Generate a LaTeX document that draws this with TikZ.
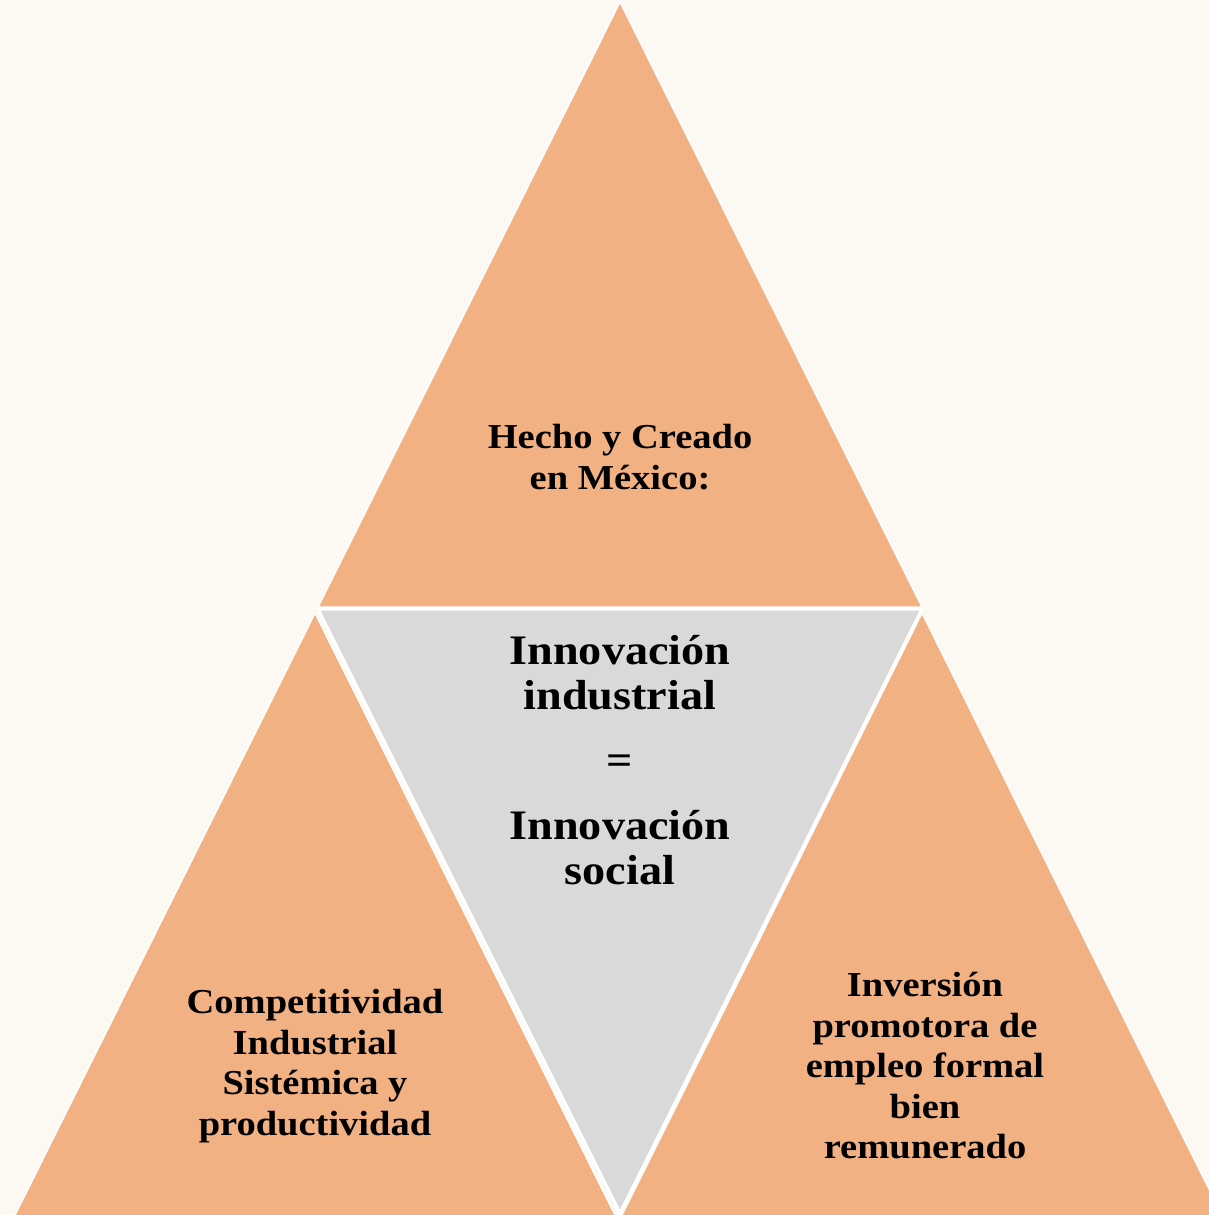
\documentclass[tikz,border=0pt]{standalone}
\usepackage{fontspec}
\setmainfont{Liberation Serif}[FakeStretch=1.1]
\definecolor{bgcream}{HTML}{FCF9F3}
\definecolor{peach}{HTML}{F2B183}
\definecolor{midgray}{HTML}{D9D9D9}

\begin{document}
\begin{tikzpicture}[x=1pt, y=-1pt,
    side/.style={fill=peach, draw=white, line width=1.5pt},
    core/.style={fill=midgray, draw=white, line width=3pt},
    label/.style={align=center, font=\bfseries\fontsize{35}{40.5}\selectfont},
    biglabel/.style={align=center, font=\bfseries\fontsize{42}{45}\selectfont}]
    \fill[bgcream] (0,0) rectangle (1209,1215);
    \useasboundingbox (0,0) rectangle (1209,1215);
    \clip (0,0) rectangle (1209,1215);
    % the three outer triangles
    \draw[side] (620,2) -- (922,607) -- (318,607) -- cycle;
    \draw[side] (315,613) -- (616,1217) -- (14,1217) -- cycle;
    \draw[side] (922,613) -- (1223,1217) -- (621,1217) -- cycle;
    % the inner one
    \draw[core] (318,609) -- (922,609) -- (620,1213) -- cycle;
    \node[label] (made) at (620,457) {Hecho y Creado\\en México:};
    \node[biglabel] (innov) at (620,760) {Innovación\\industrial\\[20pt]=\\[20pt]Innovación\\social};
    \node[label] (compet) at (315,1066) {Competitividad\\Industrial\\Sistémica y\\productividad};
    \node[label] (invest) at (925,1066) {Inversión\\promotora de\\empleo formal\\bien\\remunerado};
\end{tikzpicture}
\end{document}
